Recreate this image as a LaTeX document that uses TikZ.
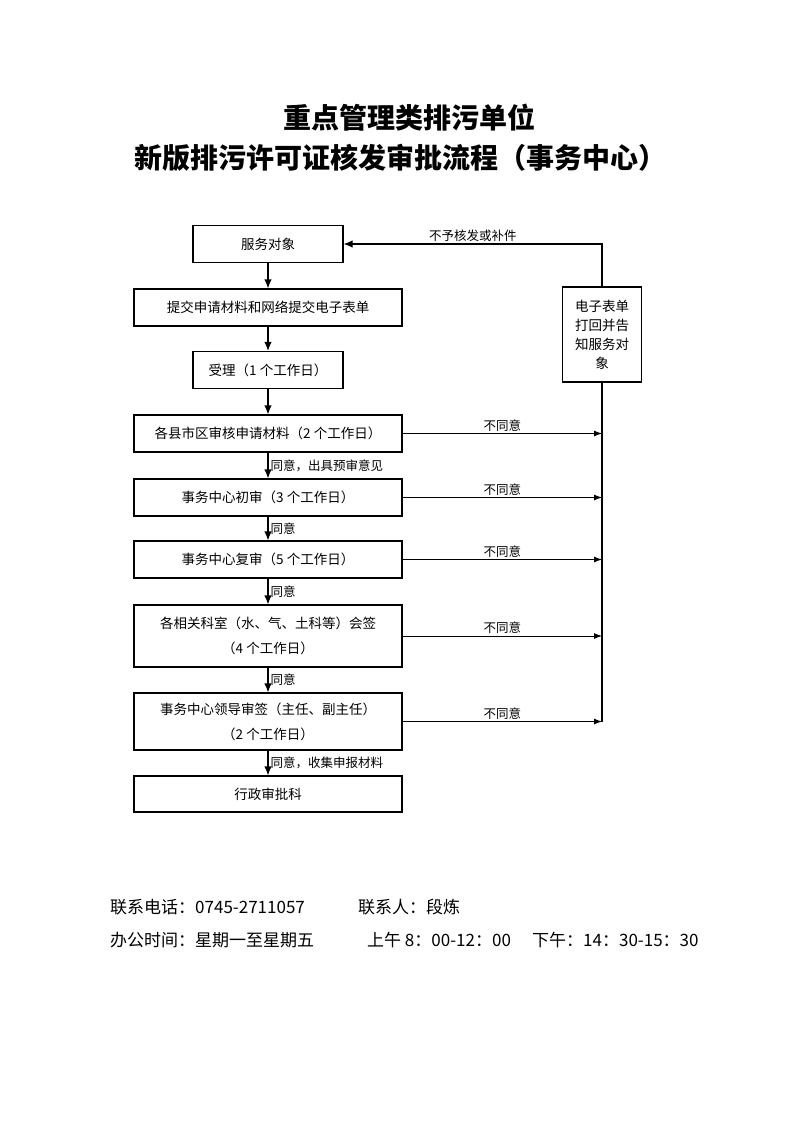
\documentclass[tikz,border=0pt]{standalone}
\usepackage{fontspec}
\setmainfont{Noto Sans CJK SC}
\usetikzlibrary{positioning,arrows.meta}
\tikzset{
  box/.style={draw, line width=1.2pt, minimum width=268pt, minimum height=37pt, align=center, inner sep=2pt, font=\fontsize{13.5}{25}\selectfont},
  shortbox/.style={box, minimum width=150pt},
  backbox/.style={box, minimum width=79pt, minimum height=95pt, font=\fontsize{13.5}{19}\selectfont},
  flow/.style={line width=1.2pt, -{Latex[length=9pt, width=7.5pt]}},
  refuse/.style={line width=0.9pt, -{Latex[length=8pt, width=6pt]}},
  yes/.style={right, inner sep=2pt, font=\fontsize{12.5}{14}\selectfont},
  no/.style={above, inner sep=2pt, font=\fontsize{12.5}{14}\selectfont},
  titletext/.style={font=\fontsize{28}{32}\selectfont\bfseries},
  foot/.style={anchor=west, inner sep=0pt, font=\fontsize{17}{20}\selectfont}
}
\begin{document}
\begin{tikzpicture}[x=1pt, y=-1pt, node distance=63pt, on grid]
  \useasboundingbox (0,0) rectangle (793,1122);
  \node (title1) [titletext] at (409,118) {重点管理类排污单位};
  \node (title2) [titletext] at (400,158) {新版排污许可证核发审批流程（事务中心）};

  \node (obj) [shortbox] at (268,244) {服务对象};
  \node (submit) [box] [below=63.5pt of obj] {提交申请材料和网络提交电子表单};
  \node (accept) [shortbox] [below=62.5pt of submit] {受理（1 个工作日）};
  \node (county) [box] [below=63.5pt of accept] {各县市区审核申请材料（2 个工作日）};
  \node (first) [box] [below=64pt of county] {事务中心初审（3 个工作日）};
  \node (second) [box] [below=62pt of first] {事务中心复审（5 个工作日）};
  \node (sign) [box, minimum height=62pt] [below=76.5pt of second] {各相关科室（水、气、土科等）会签\\（4 个工作日）};
  \node (leader) [box, minimum height=57pt] [below=85.5pt of sign] {事务中心领导审签（主任、副主任）\\（2 个工作日）};
  \node (admin) [box, minimum height=36pt] [below=72.5pt of leader] {行政审批科};
  \node (back) [backbox] [below right=90.5pt and 334pt of obj] {电子表单\\打回并告\\知服务对\\象};

  \path[flow]
    (obj) edge (submit)
    (submit) edge (accept)
    (accept) edge (county)
    (county) edge node[yes] {同意，出具预审意见} (first)
    (first) edge node[yes] {同意} (second)
    (second) edge node[yes] {同意} (sign)
    (sign) edge node[yes] {同意} (leader)
    (leader) edge node[yes] {同意，收集申报材料} (admin);

  \path[refuse]
    (county.east) edge node[no] {不同意} (county.east -| back)
    (first.east) edge node[no] {不同意} (first.east -| back)
    (second.east) edge node[no] {不同意} (second.east -| back)
    (sign.east) edge node[no] {不同意} (sign.east -| back)
    (leader.east) edge node[no] {不同意} (leader.east -| back);

  \draw[flow] (back.north) |- node[no, pos=0.75] {不予核发或补件} (obj.east);
  \draw[line width=1.2pt] (back.south) -- (leader.east -| back);

  \node (phone) [foot] at (110,907) {联系电话：0745-2711057};
  \node (contact) [foot] at (358,907) {联系人：段炼};
  \node (hours) [foot] at (110,940) {办公时间：星期一至星期五};
  \node (morning) [foot] at (367,940) {上午 8：00-12：00};
  \node (afternoon) [foot] at (532,940) {下午：14：30-15：30};
\end{tikzpicture}
\end{document}
